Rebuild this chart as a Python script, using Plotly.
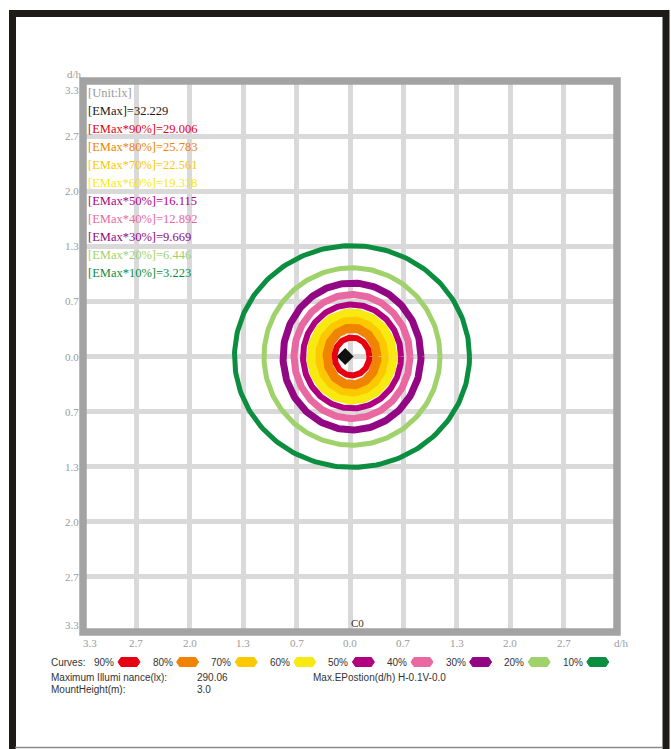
import numpy as np
import plotly.graph_objects as go

# ---------------- canvas / plot-area geometry (pixels) ----------------
W, H = 671, 749
PL, PR, PT, PB = 83, 617, 81, 632
XMAX = 10 / 3
YMAX = 10 / 3

# ---------------- data ----------------
LEVELS = ["90%", "80%", "70%", "60%", "50%", "40%", "30%", "20%", "10%"]
EMAX_TEXT = "32.229"
EMAX_LEVEL_VALUES = ["29.006", "25.783", "22.561", "19.338", "16.115",
                     "12.892", "9.669", "6.446", "3.223"]
# isolux curve half-widths / half-heights in d/h units
RADIUS_X = [0.218, 0.312, 0.410, 0.512, 0.612, 0.724, 0.861, 1.099, 1.467]
RADIUS_Y = [0.230, 0.345, 0.436, 0.526, 0.629, 0.750, 0.889, 1.073, 1.341]
CURVE_CENTER = (0.025, 0.0)
MAX_POSITION = (-0.06, 0.0)

COLORS = ["#e60012", "#f08300", "#fcc800", "#f8ea10", "#b0007f",
          "#ea68a2", "#920783", "#9fd26a", "#0b8e3f"]
WIDTHS = [6, 9, 8, 9, 6, 7, 7, 5, 5]

TICK_VALUES = [-10/3, -8/3, -2.0, -4/3, -2/3, 0.0, 2/3, 4/3, 2.0, 8/3, 10/3]
X_TICK_LABELS = ["3.3", "2.7", "2.0", "1.3", "0.7", "0.0", "0.7", "1.3", "2.0", "2.7", "d/h"]
Y_TICK_LABELS = ["3.3", "2.7", "2.0", "1.3", "0.7", "0.0", "0.7", "1.3", "2.0", "2.7", "3.3"]

MAX_ILLUMINANCE = "290.06"
MOUNT_HEIGHT = "3.0"
MAX_E_POSITION = "H-0.1V-0.0"

SERIF = "Liberation Serif, Times New Roman, serif"
SANS = "Liberation Sans, Arial, sans-serif"


def px_x(px):
    return (px - PL) / (PR - PL)


def px_y(py):
    return (PB - py) / (PB - PT)


fig = go.Figure()

# isolux curves (outer first)
theta = np.linspace(0, 2 * np.pi, 241)
for i in reversed(range(len(LEVELS))):
    fig.add_trace(go.Scatter(
        x=CURVE_CENTER[0] + RADIUS_X[i] * np.cos(theta),
        y=CURVE_CENTER[1] + RADIUS_Y[i] * np.sin(theta),
        mode="lines", line=dict(color=COLORS[i], width=WIDTHS[i]),
        hoverinfo="skip", showlegend=False))

# max position marker
fig.add_trace(go.Scatter(x=[MAX_POSITION[0]], y=[MAX_POSITION[1]], mode="markers",
                         marker=dict(symbol="diamond", size=13, color="#111111"),
                         hoverinfo="skip", showlegend=False))
fig.add_trace(go.Scatter(x=[MAX_POSITION[0]], y=[MAX_POSITION[1]], mode="markers",
                         marker=dict(symbol="circle", size=9, color="#111111"),
                         hoverinfo="skip", showlegend=False))

shapes = []
# outer black frame
shapes.append(dict(type="rect", xref="paper", yref="paper",
                   x0=px_x(12.5), x1=px_x(666), y0=px_y(770), y1=px_y(13.5),
                   line=dict(color="#1e1a18", width=7), layer="above"))
shapes.append(dict(type="line", xref="paper", yref="paper",
                   x0=px_x(15), x1=px_x(663), y0=px_y(747.5), y1=px_y(747.5),
                   line=dict(color="#8a8a8a", width=1.5), layer="above"))
# plot border
shapes.append(dict(type="rect", xref="paper", yref="paper", x0=0, x1=1, y0=0, y1=1,
                   line=dict(color="#a3a3a3", width=7.5), layer="above"))

annotations = []


def add_text(px, py, text, color, family, size, xanchor="left"):
    annotations.append(dict(xref="paper", yref="paper", x=px_x(px), y=px_y(py),
                            text=text, showarrow=False, xanchor=xanchor,
                            yanchor="middle",
                            font=dict(family=family, size=size, color=color)))


# tick labels, positioned from the tick values along the axis fraction
tick_font = dict(family=SERIF, size=11, color="#9a9a9a")
x_shift_px = [7] + [0] * 9 + [4]
for v, lab, s in zip(TICK_VALUES, X_TICK_LABELS, x_shift_px):
    annotations.append(dict(xref="paper", yref="paper", x=(v + XMAX) / (2 * XMAX),
                            y=0, xshift=s, yshift=-11, text=lab, showarrow=False,
                            xanchor="center", yanchor="middle", font=tick_font))
y_shift_px = [7] + [0] * 9 + [-9]
for v, lab, s in zip(TICK_VALUES, Y_TICK_LABELS, y_shift_px):
    annotations.append(dict(xref="paper", yref="paper", x=0,
                            y=(v + YMAX) / (2 * YMAX), xshift=-2, yshift=s,
                            text=lab, showarrow=False, xanchor="right",
                            yanchor="middle", font=tick_font))

# axis captions
add_text(74, 73.5, "d/h", "#9a9a9a", SERIF, 11, "center")
add_text(357, 623, "C0", "#333333", SERIF, 11, "center")

# upper-left value legend
add_text(86, 93, "[Unit:lx]", "#9a9a9a", SERIF, 12.5)
add_text(86, 111, "[EMax]=" + EMAX_TEXT, "#231815", SERIF, 12.5)
for i, lev in enumerate(LEVELS):
    add_text(86, 129 + 18 * i, "[EMax*%s]=%s" % (lev, EMAX_LEVEL_VALUES[i]),
             COLORS[i], SERIF, 12.5)

# bottom legend
ROW1, ROW2, ROW3 = 662, 677, 690
add_text(49, ROW1, "Curves:", "#333333", SANS, 10)
for i, lev in enumerate(LEVELS):
    lx = 92 + 58.6 * i
    add_text(lx, ROW1, lev, "#333333", SANS, 10)
    x0, x1 = lx + 26, lx + 48
    y0, y1, ym = ROW1 - 4.5, ROW1 + 4.5, ROW1
    pts = [(x0 + 3, y0), (x1 - 3, y0), (x1, ym), (x1 - 3, y1), (x0 + 3, y1), (x0, ym)]
    path = "M " + " L ".join("%.5f,%.5f" % (px_x(a), px_y(b)) for a, b in pts) + " Z"
    shapes.append(dict(type="path", xref="paper", yref="paper", path=path,
                       fillcolor=COLORS[i], line=dict(color=COLORS[i], width=1),
                       layer="above"))

add_text(49, ROW2, "Maximum Illumi nance(lx):", "#333333", SANS, 10)
add_text(195, ROW2, MAX_ILLUMINANCE, "#333333", SANS, 10)
add_text(311, ROW2, "Max.EPostion(d/h) " + MAX_E_POSITION, "#333333", SANS, 10)
add_text(49, ROW3, "MountHeight(m):", "#333333", SANS, 10)
add_text(195, ROW3, MOUNT_HEIGHT, "#333333", SANS, 10)

axis_common = dict(tickvals=TICK_VALUES, showticklabels=False, ticks="",
                   showgrid=True, gridcolor="#d9d9d9", gridwidth=5,
                   zeroline=False, showline=False, fixedrange=True)

fig.update_layout(
    width=W, height=H, autosize=False,
    margin=dict(l=PL, r=W - PR, t=PT, b=H - PB, pad=0),
    paper_bgcolor="white", plot_bgcolor="white",
    xaxis=dict(range=[-XMAX, XMAX], **axis_common),
    yaxis=dict(range=[-YMAX, YMAX], **axis_common),
    shapes=shapes, annotations=annotations, showlegend=False,
)

fig.write_html("out.html",
               config={"displayModeBar": False},
               post_script="document.body.style.margin='0px';"
                           "document.body.style.overflow='hidden';")
